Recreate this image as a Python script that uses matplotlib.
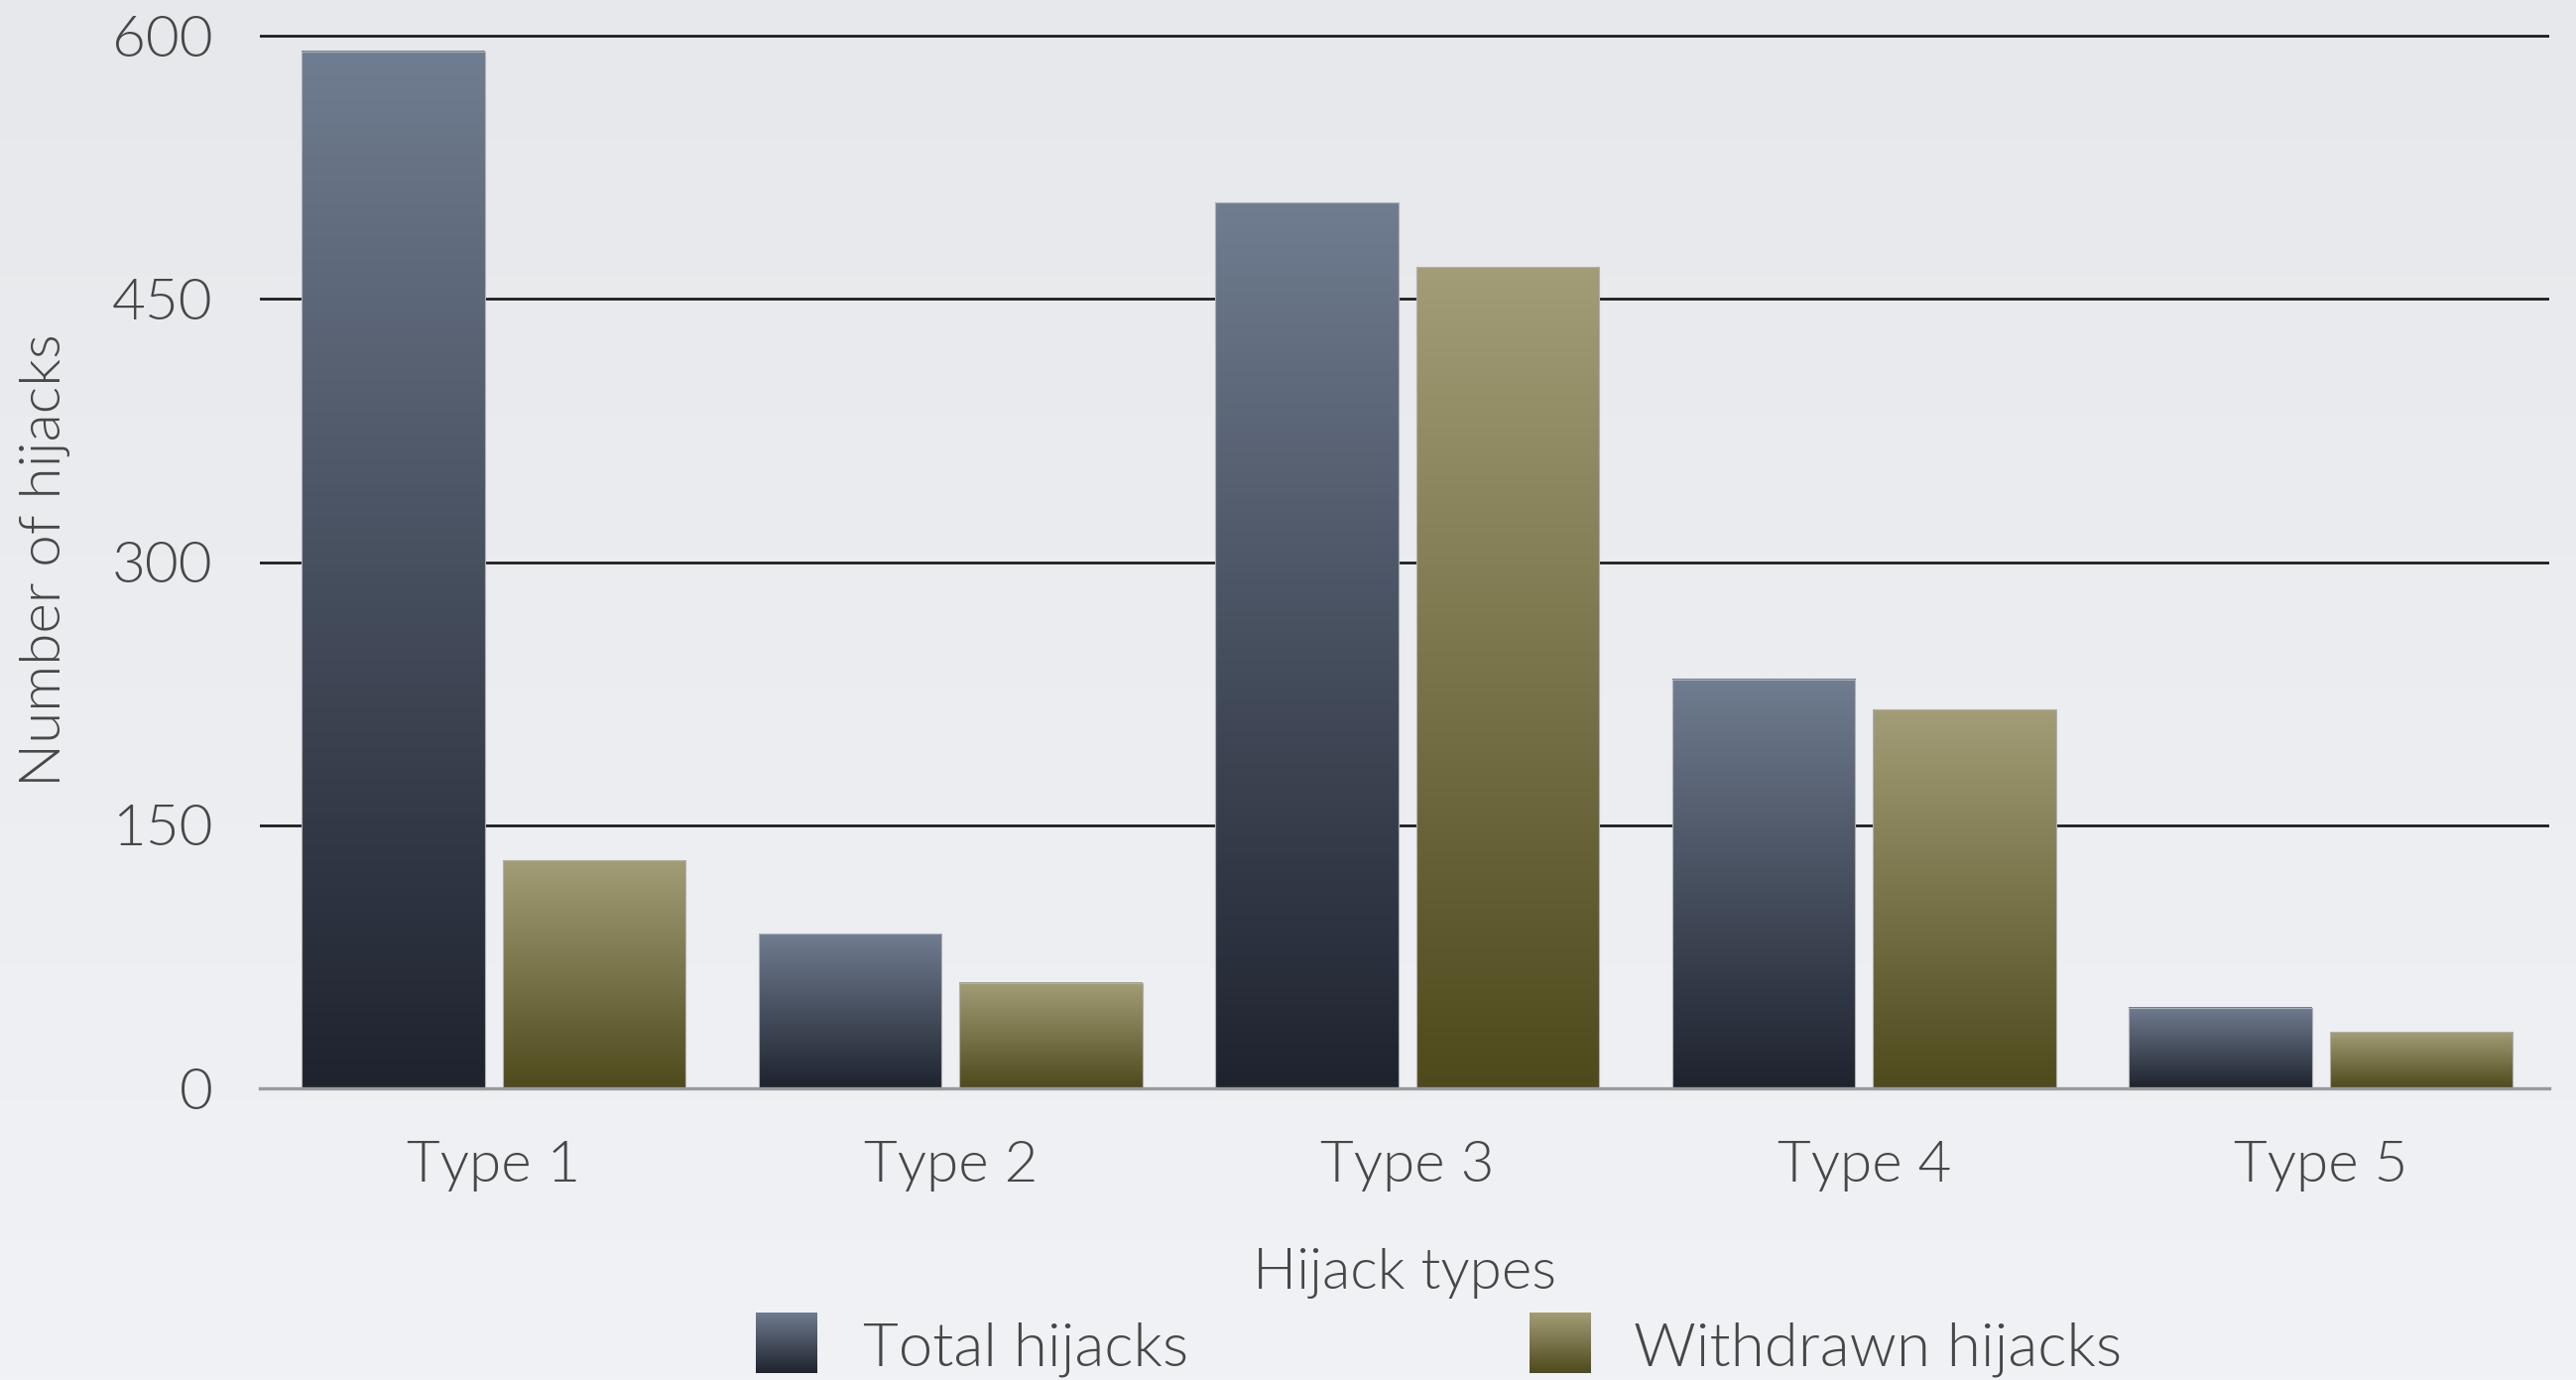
import numpy as np
import matplotlib
matplotlib.use("Agg")
import matplotlib.pyplot as plt
from matplotlib.colors import LinearSegmentedColormap

# data
categories = ["Type 1", "Type 2", "Type 3", "Type 4", "Type 5"]
total_hijacks = [591, 88, 505, 233, 46]
withdrawn_hijacks = [130, 60, 468, 216, 32]
y_ticks = [0, 150, 300, 450, 600]

plt.rcParams['font.family'] = ['Lato', 'DejaVu Sans']
plt.rcParams['font.weight'] = 300
plt.rcParams['axes.labelweight'] = 300
text_col = '#474747'

W, H = 2597, 1391
fig = plt.figure(figsize=(W / 100, H / 100), dpi=100)

# light grey slide background
bg = fig.add_axes([0, 0, 1, 1], zorder=-10)
bg_cmap = LinearSegmentedColormap.from_list('bg', ['#f1f2f5', '#e6e8eb'])
bg.imshow(np.linspace(1, 0, 256).reshape(-1, 1), cmap=bg_cmap, aspect='auto',
          extent=[0, 1, 0, 1])
bg.axis('off')

cm_total = LinearSegmentedColormap.from_list('tot', ['#1e232e', '#707c90'])
cm_withd = LinearSegmentedColormap.from_list('wd', ['#4f4a1c', '#a29d76'])
grad = np.linspace(1, 0, 256).reshape(-1, 1)

ax = fig.add_axes([262 / W, 1 - 1097 / H, (2570 - 262) / W, (1097 - 32.5) / H])
ax.patch.set_alpha(0)

x = np.arange(len(categories))
w = 0.4
b1 = ax.bar(x - 0.22, total_hijacks, w, facecolor='none', edgecolor='#b0b0b0', lw=0.8, zorder=3)
b2 = ax.bar(x + 0.22, withdrawn_hijacks, w, facecolor='none', edgecolor='#b0b0b0', lw=0.8, zorder=3)
for bars, cm in [(b1, cm_total), (b2, cm_withd)]:
    for r in bars:
        x0, y0, bw, bh = r.get_x(), r.get_y(), r.get_width(), r.get_height()
        ax.imshow(grad, cmap=cm, aspect='auto', extent=[x0, x0 + bw, y0, y0 + bh], zorder=2.5)

ax.set_xlim(-0.512, 4.5)
ax.set_ylim(0, 602)
ax.set_yticks(y_ticks)
ax.set_xticks(x)
ax.set_xticklabels(categories)
ax.yaxis.grid(True, color='#151515', lw=1.9)
ax.set_axisbelow(True)
ax.yaxis.get_gridlines()[0].set_visible(False)
for s in ['top', 'right', 'left']:
    ax.spines[s].set_visible(False)
ax.spines['bottom'].set_color('#9a9a9a')
ax.spines['bottom'].set_linewidth(2.4)
ax.spines['bottom'].set_zorder(4)
ax.tick_params(axis='y', length=0, pad=34, labelsize=42, labelcolor=text_col)
ax.tick_params(axis='x', length=0, pad=38, labelsize=42, labelcolor=text_col)
ax.set_xlabel('Hijack types', fontsize=42, color=text_col, labelpad=41)
ax.set_ylabel('Number of hijacks', fontsize=42, color=text_col, labelpad=30)

# legend swatches
for px, cm, lab, tx in [(762, cm_total, 'Total hijacks', 870), (1542, cm_withd, 'Withdrawn hijacks', 1647)]:
    sw = fig.add_axes([px / W, 1 - 1384 / H, 62 / W, 61 / H])
    sw.imshow(grad, cmap=cm, aspect='auto')
    sw.axis('off')
    fig.text(tx / W, 1 - 1377 / H, lab, fontsize=44.5, color=text_col, va='baseline', ha='left')

fig.savefig('out.png', dpi=100)
